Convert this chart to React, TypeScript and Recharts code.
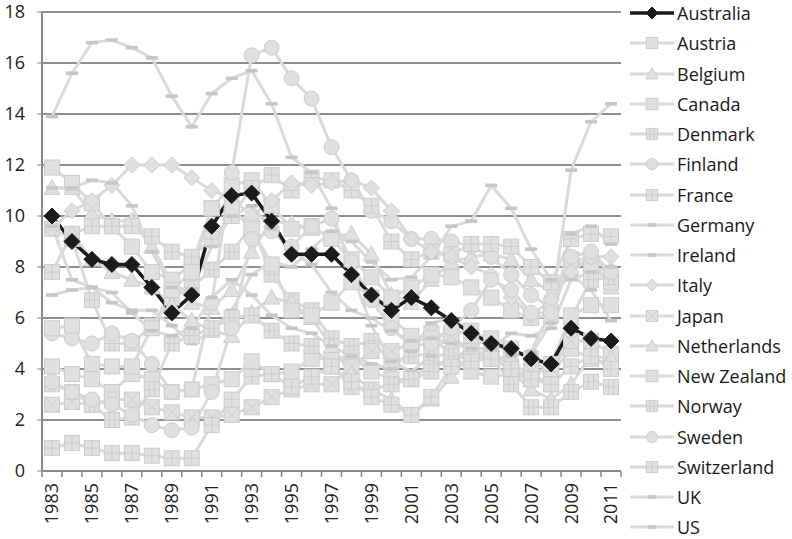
import { CartesianGrid, Line, LineChart, XAxis, YAxis } from "recharts";

const years = [
  1983, 1984, 1985, 1986, 1987, 1988, 1989, 1990, 1991, 1992, 1993, 1994, 1995, 1996, 1997,
  1998, 1999, 2000, 2001, 2002, 2003, 2004, 2005, 2006, 2007, 2008, 2009, 2010, 2011,
];

const australia = [10.0, 9.0, 8.3, 8.1, 8.1, 7.2, 6.2, 6.9, 9.6, 10.8, 10.9, 9.8, 8.5, 8.5, 8.5, 7.7, 6.9, 6.3, 6.8, 6.4, 5.9, 5.4, 5.0, 4.8, 4.4, 4.2, 5.6, 5.2, 5.1];
const austria = [4.1, 3.8, 3.6, 3.1, 3.8, 3.6, 3.1, 3.2, 3.4, 3.6, 4.3, 3.8, 3.9, 4.4, 4.4, 4.5, 3.9, 3.6, 3.6, 4.2, 4.3, 4.9, 5.2, 4.8, 4.4, 3.8, 4.8, 4.4, 4.2];
const belgium = [11.1, 11.1, 10.1, 9.8, 9.8, 8.8, 7.4, 6.6, 6.4, 7.1, 8.6, 9.8, 9.7, 9.5, 9.2, 9.3, 8.5, 6.9, 6.6, 7.5, 8.2, 8.4, 8.5, 8.3, 7.5, 7.0, 7.9, 8.3, 7.2];
const canada = [11.9, 11.3, 10.5, 9.6, 8.8, 7.8, 7.5, 8.1, 10.3, 11.2, 11.4, 10.4, 9.5, 9.6, 9.1, 8.3, 7.6, 6.8, 7.2, 7.7, 7.6, 7.2, 6.8, 6.3, 6.0, 6.1, 8.3, 8.0, 7.4];
const denmark = [9.5, 9.1, 6.7, 5.0, 5.0, 5.7, 6.8, 7.2, 7.9, 8.6, 9.6, 7.7, 6.7, 6.3, 5.2, 4.9, 5.1, 4.3, 4.5, 4.6, 5.4, 5.5, 4.8, 3.9, 3.8, 3.4, 6.0, 7.5, 7.6];
const finland = [5.4, 5.2, 5.0, 5.4, 5.1, 4.2, 3.1, 3.2, 6.6, 11.7, 16.3, 16.6, 15.4, 14.6, 12.7, 11.4, 10.2, 9.8, 9.1, 9.1, 9.0, 8.8, 8.4, 7.7, 6.9, 6.4, 8.2, 8.4, 7.8];
const france = [7.8, 9.3, 9.6, 9.6, 9.6, 9.2, 8.6, 8.4, 9.1, 10.0, 11.1, 11.6, 11.0, 11.5, 11.4, 11.0, 10.4, 9.0, 8.3, 8.6, 8.5, 8.9, 8.9, 8.8, 8.0, 7.4, 9.1, 9.3, 9.2];
const germany = [6.9, 7.1, 7.2, 6.6, 6.3, 6.3, 5.7, 5.0, 5.5, 6.3, 7.7, 8.2, 8.0, 8.7, 9.4, 9.0, 8.2, 7.5, 7.6, 8.4, 9.6, 9.8, 11.2, 10.3, 8.7, 7.5, 7.7, 7.1, 5.9];
const ireland = [13.9, 15.6, 16.8, 16.9, 16.6, 16.2, 14.7, 13.5, 14.8, 15.4, 15.7, 14.4, 12.3, 11.7, 10.3, 7.8, 5.7, 4.3, 3.9, 4.5, 4.6, 4.5, 4.4, 4.5, 4.7, 6.3, 11.8, 13.7, 14.4];
const italy = [9.5, 10.2, 10.6, 11.2, 12.0, 12.0, 12.0, 11.5, 11.0, 10.7, 10.0, 10.6, 11.3, 11.2, 11.3, 11.4, 11.1, 10.2, 9.1, 8.6, 8.4, 8.0, 7.7, 6.8, 6.1, 6.7, 7.8, 8.4, 8.4];
const japan = [2.6, 2.7, 2.6, 2.8, 2.8, 2.5, 2.3, 2.1, 2.1, 2.2, 2.5, 2.9, 3.2, 3.4, 3.4, 4.1, 4.7, 4.7, 5.0, 5.4, 5.3, 4.7, 4.4, 4.1, 3.9, 4.0, 5.1, 5.1, 4.6];
const netherlands = [9.7, 9.3, 8.3, 7.8, 7.5, 7.2, 6.5, 5.9, 5.5, 5.3, 6.2, 6.8, 6.6, 6.0, 4.9, 3.8, 3.2, 2.8, 2.2, 2.8, 3.7, 4.6, 4.7, 3.9, 3.2, 2.8, 3.4, 4.5, 4.4];
const newZealand = [5.6, 5.7, 4.2, 4.1, 4.1, 5.6, 7.1, 7.8, 10.3, 10.3, 9.5, 8.1, 6.3, 6.1, 6.6, 7.4, 6.8, 6.0, 5.3, 5.2, 4.6, 3.9, 3.7, 3.8, 3.6, 4.2, 6.1, 6.5, 6.5];
const norway = [3.4, 3.1, 2.6, 2.0, 2.1, 3.2, 5.0, 5.3, 5.6, 6.0, 6.1, 5.5, 5.0, 4.9, 4.1, 3.3, 3.2, 3.4, 3.6, 3.9, 4.5, 4.4, 4.5, 3.4, 2.5, 2.5, 3.1, 3.5, 3.3];
const sweden = [3.5, 3.1, 2.8, 2.6, 2.2, 1.8, 1.6, 1.7, 3.1, 5.6, 9.1, 9.4, 8.8, 9.6, 9.9, 8.2, 6.7, 5.6, 4.9, 5.0, 5.6, 6.3, 7.5, 7.1, 6.2, 6.2, 8.4, 8.6, 7.8];
const switzerland = [0.9, 1.1, 0.9, 0.7, 0.7, 0.6, 0.5, 0.5, 1.8, 2.8, 3.7, 3.8, 3.3, 3.7, 4.1, 3.5, 2.9, 2.6, 2.2, 2.9, 4.1, 4.3, 4.4, 4.0, 3.6, 3.4, 4.1, 4.5, 4.0];
const uk = [11.1, 11.1, 11.4, 11.3, 10.4, 8.6, 7.2, 7.1, 8.8, 10.0, 10.4, 9.5, 8.6, 8.1, 7.0, 6.3, 6.0, 5.5, 5.1, 5.2, 5.0, 4.8, 4.8, 5.4, 5.3, 5.6, 7.5, 7.8, 8.0];
const us = [9.6, 7.5, 7.2, 7.0, 6.2, 5.5, 5.3, 5.6, 6.8, 7.5, 6.9, 6.1, 5.6, 5.4, 4.9, 4.5, 4.2, 4.0, 4.7, 5.8, 6.0, 5.5, 5.1, 4.6, 4.6, 5.8, 9.3, 9.6, 8.9];

const yTicks = [0, 2, 4, 6, 8, 10, 12, 14, 16, 18];

type Shape = "diamond" | "square" | "squareX" | "squarePlus" | "squareGrid" | "triangle" | "circle" | "dash";

const series: { name: string; values: number[]; shape: Shape }[] = [
  { name: "Australia", values: australia, shape: "diamond" },
  { name: "Austria", values: austria, shape: "square" },
  { name: "Belgium", values: belgium, shape: "triangle" },
  { name: "Canada", values: canada, shape: "square" },
  { name: "Denmark", values: denmark, shape: "squareGrid" },
  { name: "Finland", values: finland, shape: "circle" },
  { name: "France", values: france, shape: "squarePlus" },
  { name: "Germany", values: germany, shape: "dash" },
  { name: "Ireland", values: ireland, shape: "dash" },
  { name: "Italy", values: italy, shape: "diamond" },
  { name: "Japan", values: japan, shape: "squareX" },
  { name: "Netherlands", values: netherlands, shape: "triangle" },
  { name: "New Zealand", values: newZealand, shape: "square" },
  { name: "Norway", values: norway, shape: "squareGrid" },
  { name: "Sweden", values: sweden, shape: "circle" },
  { name: "Switzerland", values: switzerland, shape: "squarePlus" },
  { name: "UK", values: uk, shape: "dash" },
  { name: "US", values: us, shape: "dash" },
];

const data = years.map((y, i) => {
  const row: Record<string, any> = { year: String(y) };
  series.forEach((s) => (row[s.name] = s.values[i]));
  return row;
});

const FONT = "'Open Sans', sans-serif";
const GRAY_LINE = "#dadada";
const GRAY_FILL = "#e0e0e0";
const GRAY_EDGE = "#cdcdcd";
const DARK = "#1b1b1b";

const Marker = ({ cx, cy, shape, dark, s = 1 }: { cx: number; cy: number; shape: Shape; dark?: boolean; s?: number }) => {
  const fill = dark ? DARK : GRAY_FILL;
  const stroke = dark ? DARK : GRAY_EDGE;
  const h = 7.5 * s;
  switch (shape) {
    case "diamond": {
      const d = (dark ? 8 : 8) * s;
      return <polygon points={`${cx},${cy - d} ${cx + d},${cy} ${cx},${cy + d} ${cx - d},${cy}`} fill={fill} stroke={stroke} strokeWidth={1} />;
    }
    case "triangle":
      return <polygon points={`${cx},${cy - 8.5 * s} ${cx + 8 * s},${cy + 6.5 * s} ${cx - 8 * s},${cy + 6.5 * s}`} fill={fill} stroke={stroke} strokeWidth={1} />;
    case "circle":
      return <circle cx={cx} cy={cy} r={7.5 * s} fill={fill} stroke={stroke} strokeWidth={1} />;
    case "dash":
      return <rect x={cx - 6 * s} y={cy - 1.8} width={12 * s} height={3.6} fill="#c6c6c6" />;
    default:
      return (
        <g>
          <rect x={cx - h} y={cy - h} width={2 * h} height={2 * h} fill={fill} stroke={stroke} strokeWidth={1} />
          {shape === "squareX" && (
            <path d={`M${cx - h} ${cy - h}L${cx + h} ${cy + h}M${cx + h} ${cy - h}L${cx - h} ${cy + h}`} stroke={GRAY_EDGE} strokeWidth={1} />
          )}
          {shape === "squarePlus" && (
            <path d={`M${cx} ${cy - h}L${cx} ${cy + h}M${cx - h} ${cy}L${cx + h} ${cy}`} stroke={GRAY_EDGE} strokeWidth={1} />
          )}
          {shape === "squareGrid" && (
            <path
              d={`M${cx - h / 3} ${cy - h}L${cx - h / 3} ${cy + h}M${cx + h / 3} ${cy - h}L${cx + h / 3} ${cy + h}M${cx - h} ${cy}L${cx + h} ${cy}`}
              stroke={GRAY_EDGE}
              strokeWidth={1}
            />
          )}
        </g>
      );
  }
};

const XTick = (props: any) => {
  const { x, y, payload, index } = props;
  const last = index === years.length - 1;
  return (
    <g>
      <line x1={x - 10} y1={y} x2={x - 10} y2={y + 6} stroke="#888" strokeWidth={1.5} />
      {last && <line x1={x + 10} y1={y} x2={x + 10} y2={y + 6} stroke="#888" strokeWidth={1.5} />}
      {index % 2 === 0 && (
        <text
          x={x}
          y={y + 12}
          dy="0.36em"
          textAnchor="end"
          transform={`rotate(-90, ${x}, ${y + 12})`}
          fontFamily={FONT}
          fontSize={18}
          fill="#222"
        >
          {payload.value}
        </text>
      )}
    </g>
  );
};

const ChartLegend = () => (
  <div style={{ position: "absolute", left: 628, top: 0, width: 164, fontFamily: FONT }}>
    {series.map((s, i) => {
      const dark = i === 0;
      return (
        <div key={s.name} style={{ position: "absolute", top: 13 + i * 30.25 - 15, height: 30, display: "flex", alignItems: "center" }}>
          <svg width={48} height={30} style={{ display: "block" }}>
            <line x1={2} y1={15} x2={46} y2={15} stroke={dark ? DARK : GRAY_LINE} strokeWidth={dark ? 3.5 : 3} />
            <Marker cx={24} cy={15} shape={s.shape} dark={dark} s={0.75} />
          </svg>
          <span style={{ fontSize: 18, color: "#1a1a1a", marginLeft: 1, whiteSpace: "nowrap" }}>{s.name}</span>
        </div>
      );
    })}
  </div>
);

const App = () => {
  const grays = series.slice(1);
  return (
    <div style={{ position: "absolute", left: 0, top: 0, width: 792, height: 539, background: "#fff" }}>
      <LineChart width={792} height={539} data={data} margin={{ top: 12, right: 171, bottom: 0, left: 0 }}>
        <CartesianGrid vertical={false} stroke="#8e8e8e" strokeWidth={2} />
        <XAxis
          dataKey="year"
          interval={0}
          height={68}
          padding={{ left: 10, right: 10 }}
          tickLine={false}
          tickSize={0}
          tickMargin={0}
          axisLine={{ stroke: "#888", strokeWidth: 2 }}
          tick={<XTick />}
        />
        <YAxis
          domain={[0, 18]}
          ticks={yTicks}
          width={42}
          tickSize={5}
          tickMargin={12}
          axisLine={{ stroke: "#888", strokeWidth: 2 }}
          tickLine={{ stroke: "#888" }}
          tick={{ fontFamily: FONT, fontSize: 18, fill: "#222" }}
        />
        {grays.map((s) => (
          <Line
            key={s.name}
            dataKey={s.name}
            stroke={GRAY_LINE}
            strokeWidth={3}
            isAnimationActive={false}
            dot={(p: any) => <Marker key={`${s.name}-${p.index}`} cx={p.cx} cy={p.cy} shape={s.shape} />}
            activeDot={false}
          />
        ))}
        <Line
          dataKey="Australia"
          stroke={DARK}
          strokeWidth={3.5}
          isAnimationActive={false}
          dot={(p: any) => <Marker key={`au-${p.index}`} cx={p.cx} cy={p.cy} shape="diamond" dark />}
          activeDot={false}
        />
      </LineChart>
      <ChartLegend />
    </div>
  );
};

export default App;
